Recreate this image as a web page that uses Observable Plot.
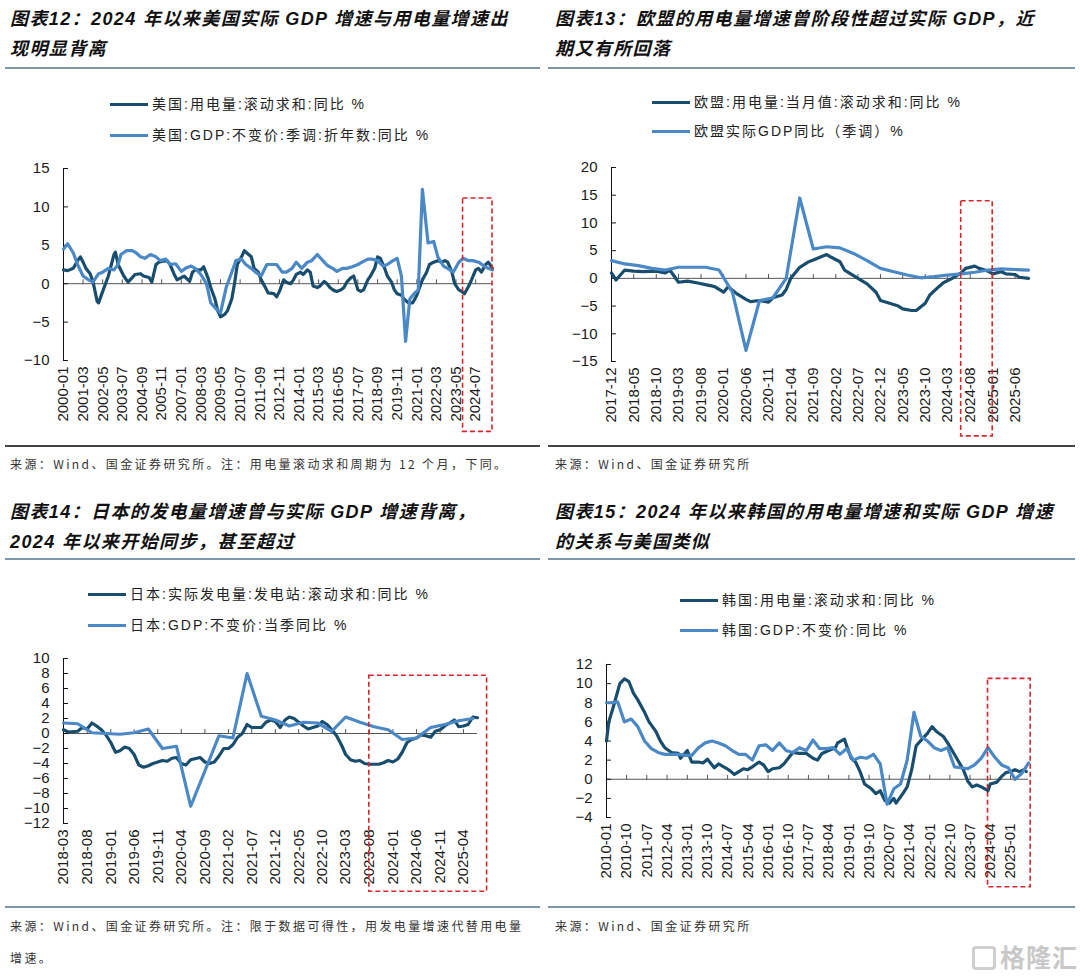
<!DOCTYPE html>
<html>
<head>
<meta charset="utf-8">
<script src="https://cdn.jsdelivr.net/npm/d3@7"></script>
<script src="https://cdn.jsdelivr.net/npm/@observablehq/plot@0.6"></script>
<style>
  html, body { margin: 0; padding: 0; background: #fff; }
  #page { position: relative; width: 1080px; height: 976px; overflow: hidden; font-family: "Liberation Sans", Arial, "Noto Sans CJK SC", sans-serif; }
  .title { position: absolute; font-family: "Liberation Sans", "Noto Sans CJK SC", sans-serif; font-weight: bold; font-style: italic; font-size: 18px; line-height: 30px; letter-spacing: 1.4px; color: #111; white-space: nowrap; }
  .sep { position: absolute; height: 2px; background: #7d97aa; }
  .bot { position: absolute; height: 1.5px; background: #444; }
  .leg { position: absolute; height: 20px; line-height: 20px; font-size: 14px; letter-spacing: 2px; color: #222; white-space: nowrap; font-family: "Liberation Sans", "Noto Sans CJK SC", sans-serif; }
  .leg i { display: inline-block; width: 38px; height: 3.5px; vertical-align: middle; margin-right: 4px; position: relative; top: -1px; }
  .src { position: absolute; font-size: 12px; letter-spacing: 2.4px; color: #333; white-space: nowrap; font-family: "Noto Sans CJK SC", sans-serif; line-height: 20px; }
  .chart { position: absolute; }
  .wm { position: absolute; left: 972px; top: 938px; color: #c8c8c8; font-family: "Noto Sans CJK SC", sans-serif; font-size: 25px; font-weight: bold; letter-spacing: 1px; }
  .wm b { display: inline-block; width: 24px; height: 24px; border: 3px solid #cfcfcf; border-radius: 4px; box-sizing: border-box; vertical-align: -3px; margin-right: 4px; }
</style>
</head>
<body>
<div id="page">
  <div class="title" style="left:10px;top:4px;">图表12：2024 年以来美国实际 GDP 增速与用电量增速出<br>现明显背离</div>
  <div class="title" style="left:555px;top:4px;">图表13：欧盟的用电量增速曾阶段性超过实际 GDP，近<br>期又有所回落</div>
  <div class="title" style="left:10px;top:497px;">图表14：日本的发电量增速曾与实际 GDP 增速背离，<br>2024 年以来开始同步，甚至超过</div>
  <div class="title" style="left:555px;top:497px;">图表15：2024 年以来韩国的用电量增速和实际 GDP 增速<br>的关系与美国类似</div>

  <div class="sep" style="left:5px;top:67px;width:535px;"></div>
  <div class="sep" style="left:548px;top:67px;width:527px;"></div>
  <div class="sep" style="left:5px;top:558px;width:535px;"></div>
  <div class="sep" style="left:548px;top:558px;width:527px;"></div>

  <div id="c1" class="chart" style="left:0px;top:150px;"></div>
  <div id="c2" class="chart" style="left:545px;top:150px;"></div>
  <div id="c3" class="chart" style="left:0px;top:640px;"></div>
  <div id="c4" class="chart" style="left:545px;top:640px;"></div>

  <div class="bot" style="left:5px;top:445px;width:535px;"></div>
  <div class="bot" style="left:548px;top:445px;width:527px;"></div>
  <div class="sep" style="left:5px;top:906px;width:535px;"></div>
  <div class="sep" style="left:548px;top:906px;width:527px;"></div>

  <div class="src" style="left:10px;top:454px;">来源：Wind、国金证券研究所。注：用电量滚动求和周期为 12 个月，下同。</div>
  <div class="src" style="left:555px;top:454px;">来源：Wind、国金证券研究所</div>
  <div class="src" style="left:10px;top:916px;">来源：Wind、国金证券研究所。注：限于数据可得性，用发电量增速代替用电量</div>
  <div class="src" style="left:10px;top:948px;">增速。</div>
  <div class="src" style="left:555px;top:916px;">来源：Wind、国金证券研究所</div>
  <div class="wm"><b></b>格隆汇</div>
</div>
<script>
// ---------------- colours ----------------
const darkColor = "#184d6e";
const lightColor = "#4a88c6";
const boxColor = "#d9262c";

// ---------------- 图表12 美国 ----------------
const usLegend = ["美国:用电量:滚动求和:同比 %", "美国:GDP:不变价:季调:折年数:同比 %"];
const usXTicks = ["2000-01","2001-03","2002-05","2003-07","2004-09","2005-11","2007-01","2008-03","2009-05","2010-07","2011-09","2012-11","2014-01","2015-03","2016-05","2017-07","2018-09","2019-11","2021-01","2022-03","2023-05","2024-07"];
const usYTicks = [-10, -5, 0, 5, 10, 15];
const usXDomain = ["2000-01", "2025-07"];
const usBox = [["2023-10", "2025-07", -19.3, 11.1]];
const usElec = [["2000-01",1.8],["2000-04",1.7],["2000-08",2.0],["2000-11",3.0],["2001-01",3.5],["2001-03",2.8],["2001-05",2.0],["2001-08",1.3],["2001-10",0.3],["2002-01",-2.3],["2002-02",-2.5],["2002-05",-1.0],["2002-09",1.0],["2003-01",3.8],["2003-02",4.1],["2003-04",2.5],["2003-08",1.0],["2003-11",0.2],["2004-02",0.8],["2004-04",1.2],["2004-08",1.3],["2004-10",1.0],["2005-02",0.8],["2005-04",0.2],["2005-07",2.5],["2005-09",2.8],["2005-11",2.9],["2006-03",3.0],["2006-05",2.5],["2006-08",1.2],["2006-10",0.5],["2007-01",0.8],["2007-03",1.0],["2007-07",0.3],["2007-09",1.5],["2007-11",1.8],["2008-03",1.8],["2008-05",2.2],["2008-08",0.8],["2008-10",-0.5],["2009-01",-2.0],["2009-03",-3.5],["2009-05",-4.3],["2009-08",-4.0],["2009-10",-3.5],["2010-01",-2.0],["2010-03",0.0],["2010-05",2.5],["2010-08",3.5],["2010-10",4.3],["2011-01",3.8],["2011-03",3.5],["2011-05",2.0],["2011-08",1.5],["2011-10",0.5],["2012-01",-0.5],["2012-03",-1.2],["2012-07",-1.3],["2012-09",-1.7],["2012-11",-1.0],["2013-02",0.5],["2013-04",0.2],["2013-07",0.0],["2013-09",0.5],["2013-11",1.2],["2014-02",1.5],["2014-04",1.2],["2014-07",1.8],["2014-09",1.5],["2014-11",-0.3],["2015-02",-0.5],["2015-04",-0.3],["2015-07",0.3],["2015-09",0.0],["2015-11",-0.5],["2016-02",-0.9],["2016-04",-1.0],["2016-07",-0.8],["2016-09",-0.5],["2016-11",0.2],["2017-02",0.8],["2017-04",1.0],["2017-07",-0.8],["2017-09",-1.0],["2017-11",-0.8],["2018-02",0.5],["2018-04",1.0],["2018-07",2.0],["2018-09",3.5],["2018-11",3.3],["2019-02",2.0],["2019-04",1.0],["2019-07",0.2],["2019-09",-0.8],["2019-11",-1.3],["2020-02",-1.5],["2020-04",-2.0],["2020-07",-2.5],["2020-10",-2.5],["2021-01",-1.5],["2021-03",-0.5],["2021-05",0.5],["2021-08",1.5],["2021-10",2.5],["2022-01",2.8],["2022-04",3.0],["2022-07",2.8],["2022-09",3.0],["2022-11",2.8],["2023-02",1.5],["2023-04",0.0],["2023-07",-0.8],["2023-09",-1.0],["2023-11",-1.3],["2024-02",-0.3],["2024-04",0.5],["2024-07",1.8],["2024-09",2.0],["2024-11",1.5],["2025-02",2.5],["2025-04",2.8],["2025-07",2.0]];
const usGdp = [["2000-01",4.5],["2000-04",5.2],["2000-08",4.0],["2000-11",2.5],["2001-03",1.0],["2001-07",0.5],["2001-10",0.2],["2002-02",1.3],["2002-05",1.5],["2002-09",2.0],["2003-01",1.8],["2003-04",2.5],["2003-06",3.8],["2003-10",4.3],["2004-02",4.3],["2004-05",4.0],["2004-08",3.5],["2004-11",3.3],["2005-03",3.8],["2005-07",3.5],["2005-10",3.0],["2006-02",3.2],["2006-05",2.5],["2006-09",2.6],["2007-01",1.6],["2007-04",2.0],["2007-08",2.3],["2007-11",2.0],["2008-03",1.2],["2008-07",0.0],["2008-10",-2.5],["2009-02",-3.3],["2009-05",-3.8],["2009-09",-0.5],["2010-01",1.5],["2010-04",3.0],["2010-08",3.2],["2010-11",2.5],["2011-03",2.0],["2011-06",1.5],["2011-10",1.0],["2012-02",2.5],["2012-05",2.5],["2012-09",2.5],["2013-01",1.5],["2013-04",1.5],["2013-08",2.0],["2013-11",2.8],["2014-03",2.0],["2014-07",2.8],["2014-10",3.0],["2015-02",3.8],["2015-06",3.0],["2015-09",2.4],["2016-01",2.0],["2016-04",1.6],["2016-08",2.0],["2016-11",2.0],["2017-03",2.2],["2017-07",2.5],["2017-10",2.8],["2018-02",3.2],["2018-05",3.2],["2018-09",3.0],["2019-01",2.3],["2019-04",2.5],["2019-08",3.0],["2019-11",3.3],["2020-02",1.0],["2020-05",-7.5],["2020-08",-2.0],["2020-11",-1.3],["2021-02",-0.8],["2021-05",12.3],["2021-09",5.3],["2022-01",5.5],["2022-04",3.5],["2022-08",2.3],["2022-11",2.0],["2023-03",1.5],["2023-07",2.8],["2023-10",3.3],["2024-02",3.0],["2024-05",3.0],["2024-09",2.8],["2025-01",2.3],["2025-04",2.0],["2025-07",1.8]];

// ---------------- 图表13 欧盟 ----------------
const euLegend = ["欧盟:用电量:当月值:滚动求和:同比 %", "欧盟实际GDP同比（季调）%"];
const euXTicks = ["2017-12","2018-05","2018-10","2019-03","2019-08","2020-01","2020-06","2020-11","2021-04","2021-09","2022-02","2022-07","2022-12","2023-05","2023-10","2024-03","2024-08","2025-01","2025-06"];
const euYTicks = [-15, -10, -5, 0, 5, 10, 15, 20];
const euXDomain = ["2017-12", "2025-09"];
const euBox = [["2024-06", "2025-01", -28.5, 13.9]];
const euElec = [["2017-12",1.0],["2018-01",-0.3],["2018-03",1.5],["2018-05",1.3],["2018-07",1.2],["2018-10",1.3],["2018-12",1.0],["2019-01",1.5],["2019-03",-0.7],["2019-05",-0.5],["2019-07",-0.8],["2019-10",-1.3],["2019-11",-1.5],["2020-01",-2.5],["2020-02",-1.5],["2020-04",-2.8],["2020-06",-3.8],["2020-07",-4.2],["2020-09",-4.0],["2020-11",-4.3],["2020-12",-3.5],["2021-02",-3.0],["2021-03",-2.0],["2021-04",0.0],["2021-06",2.0],["2021-08",3.0],["2021-09",3.3],["2021-11",4.0],["2021-12",4.3],["2022-01",3.8],["2022-03",3.0],["2022-04",1.5],["2022-06",0.5],["2022-07",0.0],["2022-09",-1.0],["2022-11",-2.5],["2022-12",-4.0],["2023-02",-4.5],["2023-04",-5.0],["2023-05",-5.5],["2023-07",-5.8],["2023-08",-5.8],["2023-10",-4.5],["2023-11",-3.0],["2024-01",-1.5],["2024-02",-0.8],["2024-04",0.0],["2024-06",1.0],["2024-07",1.8],["2024-09",2.2],["2024-10",1.8],["2024-12",1.3],["2025-01",0.8],["2025-03",1.2],["2025-04",0.8],["2025-06",0.7],["2025-07",0.2],["2025-09",0.0]];
const euGdp = [["2017-12",3.2],["2018-03",2.6],["2018-06",2.3],["2018-09",1.8],["2018-12",1.5],["2019-03",2.0],["2019-06",2.0],["2019-09",2.0],["2019-12",1.5],["2020-03",-2.5],["2020-06",-13.0],["2020-09",-4.0],["2020-12",-3.5],["2021-03",0.0],["2021-06",14.5],["2021-09",5.3],["2021-12",5.7],["2022-03",5.5],["2022-06",4.5],["2022-09",3.2],["2022-12",1.8],["2023-03",1.2],["2023-06",0.6],["2023-09",0.1],["2023-12",0.3],["2024-03",0.6],["2024-06",0.8],["2024-09",1.1],["2024-12",1.5],["2025-03",1.7],["2025-06",1.6],["2025-09",1.5]];

// ---------------- 图表14 日本 ----------------
const jpLegend = ["日本:实际发电量:发电站:滚动求和:同比 %", "日本:GDP:不变价:当季同比 %"];
const jpXTicks = ["2018-03","2018-08","2019-01","2019-06","2019-11","2020-04","2020-09","2021-02","2021-07","2021-12","2022-05","2022-10","2023-03","2023-08","2024-01","2024-06","2024-11","2025-04"];
const jpYTicks = [-12, -10, -8, -6, -4, -2, 0, 2, 4, 6, 8, 10];
const jpXDomain = ["2018-03", "2025-07"];
const jpBox = [["2023-08", "2025-09", -21.1, 7.7]];
const jpElec = [["2018-03",0.5],["2018-04",0.2],["2018-06",0.3],["2018-07",0.8],["2018-08",0.6],["2018-09",1.4],["2018-10",1.0],["2018-11",0.5],["2018-12",-0.2],["2019-01",-1.2],["2019-02",-2.5],["2019-03",-2.3],["2019-04",-1.8],["2019-05",-2.0],["2019-06",-2.8],["2019-07",-4.2],["2019-08",-4.5],["2019-09",-4.3],["2019-10",-4.0],["2019-11",-3.8],["2019-12",-3.6],["2020-01",-3.7],["2020-02",-3.3],["2020-03",-3.2],["2020-04",-4.0],["2020-05",-4.2],["2020-06",-3.5],["2020-08",-3.2],["2020-09",-3.8],["2020-10",-4.0],["2020-11",-3.8],["2020-12",-3.0],["2021-01",-2.0],["2021-02",-2.0],["2021-03",-1.5],["2021-04",-0.5],["2021-05",0.0],["2021-06",1.2],["2021-07",0.8],["2021-09",0.8],["2021-10",1.5],["2021-11",1.8],["2021-12",1.6],["2022-01",0.8],["2022-02",1.8],["2022-03",2.2],["2022-04",2.0],["2022-05",1.5],["2022-06",1.0],["2022-07",0.6],["2022-09",1.0],["2022-10",1.6],["2022-11",1.2],["2022-12",0.5],["2023-01",-0.3],["2023-02",-1.5],["2023-03",-2.8],["2023-04",-3.5],["2023-05",-3.7],["2023-06",-3.6],["2023-07",-4.0],["2023-08",-4.1],["2023-10",-4.1],["2023-11",-3.9],["2023-12",-3.6],["2024-01",-3.8],["2024-02",-3.4],["2024-03",-2.5],["2024-04",-1.2],["2024-05",-0.8],["2024-06",-0.6],["2024-07",-0.2],["2024-08",-0.3],["2024-09",-0.5],["2024-10",0.3],["2024-11",0.5],["2024-12",1.0],["2025-01",1.4],["2025-02",1.8],["2025-03",0.9],["2025-04",1.0],["2025-05",1.2],["2025-06",2.2],["2025-07",2.1]];
const jpGdp = [["2018-03",1.4],["2018-06",1.3],["2018-09",0.1],["2018-12",0.0],["2019-03",-0.1],["2019-06",0.1],["2019-09",0.6],["2019-12",-2.0],["2020-03",-1.7],["2020-06",-9.7],["2020-09",-5.0],["2020-12",-0.3],["2021-03",-0.6],["2021-06",8.0],["2021-09",2.3],["2021-12",1.8],["2022-03",1.0],["2022-06",1.5],["2022-09",1.4],["2022-12",0.3],["2023-03",2.2],["2023-06",1.5],["2023-09",0.9],["2023-12",0.5],["2024-03",-0.8],["2024-06",-0.6],["2024-09",0.8],["2024-12",1.2],["2025-03",1.7],["2025-06",2.0]];

// ---------------- 图表15 韩国 ----------------
const krLegend = ["韩国:用电量:滚动求和:同比 %", "韩国:GDP:不变价:同比 %"];
const krXTicks = ["2010-01","2010-10","2011-07","2012-04","2013-01","2013-10","2014-07","2015-04","2016-01","2016-10","2017-07","2018-04","2019-01","2019-10","2020-07","2021-04","2022-01","2022-10","2023-07","2024-04","2025-01"];
const krYTicks = [-4, -2, 0, 2, 4, 6, 8, 10, 12];
const krXDomain = ["2010-01", "2025-09"];
const krBox = [["2024-03", "2025-10", -11.3, 10.5]];
const krElec = [["2010-01",4.0],["2010-02",6.0],["2010-04",7.5],["2010-07",10.0],["2010-09",10.5],["2010-11",10.2],["2011-01",9.0],["2011-03",8.3],["2011-06",7.0],["2011-08",6.0],["2011-11",5.0],["2012-01",4.0],["2012-03",3.3],["2012-06",2.8],["2012-09",2.7],["2012-10",2.2],["2013-01",3.0],["2013-03",1.8],["2013-06",1.8],["2013-08",1.7],["2013-10",2.1],["2014-01",1.2],["2014-03",1.6],["2014-06",1.2],["2014-08",0.9],["2014-10",0.5],["2014-12",0.8],["2015-02",1.1],["2015-04",1.0],["2015-06",1.3],["2015-09",1.8],["2015-11",1.5],["2016-01",0.8],["2016-03",1.1],["2016-06",1.2],["2016-08",1.6],["2016-10",2.2],["2016-12",2.8],["2017-03",2.7],["2017-06",2.7],["2017-09",2.2],["2017-11",2.0],["2018-01",2.7],["2018-04",3.0],["2018-07",3.3],["2018-08",3.8],["2018-11",4.2],["2018-12",3.5],["2019-02",2.2],["2019-04",1.8],["2019-06",0.8],["2019-08",-0.5],["2019-11",-1.0],["2020-01",-1.5],["2020-03",-1.2],["2020-05",-2.2],["2020-07",-2.5],["2020-09",-2.0],["2020-10",-2.5],["2021-01",-1.5],["2021-03",-0.8],["2021-05",1.0],["2021-07",3.5],["2021-10",4.3],["2021-12",4.8],["2022-02",5.5],["2022-04",5.0],["2022-07",4.5],["2022-09",3.8],["2022-11",3.0],["2023-01",2.2],["2023-04",1.0],["2023-06",-0.2],["2023-08",-0.8],["2023-10",-0.6],["2023-12",-0.8],["2024-03",-1.2],["2024-04",-0.5],["2024-07",-0.3],["2024-09",0.3],["2024-11",0.7],["2025-01",0.8],["2025-03",1.0],["2025-05",0.8],["2025-07",1.0],["2025-08",0.8]];
const krGdp = [["2010-01",8.0],["2010-03",8.0],["2010-06",8.1],["2010-09",6.0],["2010-12",6.3],["2011-03",5.5],["2011-06",4.0],["2011-09",3.2],["2011-12",2.8],["2012-03",2.6],["2012-06",2.6],["2012-09",2.6],["2012-12",2.5],["2013-03",2.5],["2013-06",3.3],["2013-09",3.8],["2013-12",4.0],["2014-03",3.8],["2014-06",3.5],["2014-09",3.0],["2014-12",2.6],["2015-03",2.6],["2015-06",2.0],["2015-09",3.5],["2015-12",3.6],["2016-03",3.0],["2016-06",3.8],["2016-09",3.0],["2016-12",2.8],["2017-03",3.3],["2017-06",3.0],["2017-09",4.1],["2017-12",3.2],["2018-03",3.2],["2018-06",3.3],["2018-09",2.6],["2018-12",3.2],["2019-03",2.0],["2019-06",2.3],["2019-09",2.2],["2019-12",2.6],["2020-03",1.6],["2020-06",-2.6],["2020-09",-1.0],["2020-12",-0.5],["2021-03",2.0],["2021-06",7.0],["2021-09",4.5],["2021-12",4.0],["2022-03",3.3],["2022-06",3.0],["2022-09",3.3],["2022-12",1.3],["2023-03",1.2],["2023-06",1.1],["2023-09",1.5],["2023-12",2.2],["2024-03",3.3],["2024-06",2.3],["2024-09",1.5],["2024-12",1.2],["2025-03",0.0],["2025-06",0.6],["2025-09",1.7]];

// ---------------- helpers ----------------
const P = s => { const [y, m] = s.split("-").map(Number); return new Date(Date.UTC(y, m - 1, 1)); };
const fmt = d3.utcFormat("%Y-%m");
const tickShape = { draw(ctx, l) { ctx.moveTo(0, 0); ctx.lineTo(0, -l); } };

function chart(o) {
  const x0 = P(o.xDomain[0]);
  const xt = o.xTicks.map(P);
  return Plot.plot({
    width: o.width, height: o.height,
    marginLeft: o.ml, marginRight: o.mr, marginTop: o.mt, marginBottom: o.mb,
    style: { fontFamily: "'Liberation Sans', Arial, sans-serif", fontSize: "15px", color: "#1a1a1a", background: "transparent", overflow: "visible" },
    x: { type: "utc", domain: o.xDomain.map(P) },
    y: { domain: [o.yTicks[0], o.yTicks[o.yTicks.length - 1]] },
    marks: [
      Plot.axisY(o.yTicks, { tickSize: 0, tickPadding: 14, fontSize: 15 }),
      Plot.axisX(xt, { tickSize: 0, tickPadding: 6, tickRotate: -90, fontSize: 15, tickFormat: fmt }),
      Plot.ruleY([0], { stroke: "#555", strokeWidth: 1 }),
      Plot.vector(xt, { x: d => d, y: () => 0, length: 4, rotate: 0, anchor: "start", shape: tickShape, stroke: "#555", strokeWidth: 1 }),
      Plot.frame({ anchor: "left", stroke: "#111", strokeWidth: 1 }),
      Plot.vector(o.yTicks, { x: () => x0, y: d => d, length: 4, rotate: 90, anchor: "start", shape: tickShape, stroke: "#111", strokeWidth: 1 }),
      Plot.line(o.elec, { x: d => P(d[0]), y: d => d[1], stroke: darkColor, strokeWidth: 3.2, curve: "linear" }),
      Plot.line(o.gdp, { x: d => P(d[0]), y: d => d[1], stroke: lightColor, strokeWidth: 3.2, curve: "linear" }),
      Plot.rect(o.box, { x1: d => P(d[0]), x2: d => P(d[1]), y1: d => d[2], y2: d => d[3], fill: "none", stroke: boxColor, strokeWidth: 1.6, strokeDasharray: "5,3" })
    ]
  });
}

function legend(labels, swLeft, tops) {
  const page = document.getElementById("page");
  labels.forEach((t, i) => {
    const div = document.createElement("div");
    div.className = "leg";
    div.style.left = swLeft + "px";
    div.style.top = (tops[i] - 10) + "px";
    const sw = document.createElement("i");
    sw.style.background = i === 0 ? darkColor : lightColor;
    div.appendChild(sw);
    div.appendChild(document.createTextNode(t));
    page.appendChild(div);
  });
}

document.getElementById("c1").appendChild(chart({ width: 540, height: 290, ml: 63, mr: 48, mt: 18, mb: 80, xDomain: usXDomain, xTicks: usXTicks, yTicks: usYTicks, elec: usElec, gdp: usGdp, box: usBox }));
document.getElementById("c2").appendChild(chart({ width: 535, height: 290, ml: 66, mr: 52, mt: 17, mb: 79, xDomain: euXDomain, xTicks: euXTicks, yTicks: euYTicks, elec: euElec, gdp: euGdp, box: euBox }));
document.getElementById("c3").appendChild(chart({ width: 540, height: 260, ml: 63, mr: 63, mt: 18, mb: 77, xDomain: jpXDomain, xTicks: jpXTicks, yTicks: jpYTicks, elec: jpElec, gdp: jpGdp, box: jpBox }));
document.getElementById("c4").appendChild(chart({ width: 535, height: 260, ml: 61, mr: 52, mt: 24, mb: 83, xDomain: krXDomain, xTicks: krXTicks, yTicks: krYTicks, elec: krElec, gdp: krGdp, box: krBox }));

legend(usLegend, 110, [104, 135]);
legend(euLegend, 652, [102, 131]);
legend(jpLegend, 88, [594, 625]);
legend(krLegend, 680, [600, 630]);
</script>
</body>
</html>
